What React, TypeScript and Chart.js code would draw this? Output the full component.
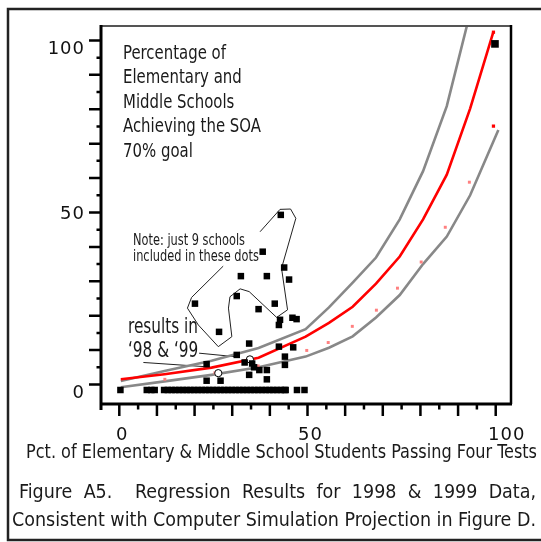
import React, { useEffect, useRef } from "react";
import { Chart, registerables } from "chart.js";
Chart.register(...registerables);

// ---- data ----
const lineX = [0.4, 12, 24.5, 37, 49.5, 55.7, 62, 68.2, 74.5, 80.7, 87, 93.2, 99.4];
const regressionY = [1.5, 3.0, 4.9, 7.8, 13.9, 17.9, 22.6, 29.3, 37.2, 48.0, 61.0, 80.2, 102.6];
const upperX = [0.4, 12, 24.5, 37, 49.5, 55.7, 62, 68.2, 74.5, 80.7, 87, 93.2];
const upperY = [1.0, 3.9, 6.9, 10.6, 16.1, 22.4, 29.6, 36.9, 48.0, 62.0, 80.9, 108];
const lowerX = [0.4, 12, 24.5, 37, 49.5, 55.7, 62, 68.2, 74.5, 80.7, 87, 93.2, 100.7];
const lowerY = [-0.8, 0.9, 2.8, 5.0, 8.1, 10.7, 14.0, 19.5, 26.0, 35.0, 43.0, 55.0, 74.0];
const projX = [12.1, 25.4, 36.9, 49.8, 55.5, 61.9, 68.3, 73.9, 80.2, 86.6, 93.0];
const projY = [1.5, 3.4, 5.4, 9.9, 12.2, 16.9, 21.6, 28.0, 35.6, 45.7, 58.8];
const endX = [99.4, 99.4];
const endY = [75.1, 102.4];
const schoolX = [42.9, 38.1, 43.8, 32.3, 39.2, 45.1, 31.2, 20.1, 41.3, 37.0, 46.0, 47.1, 42.7, 42.4, 26.5, 34.5, 42.4, 46.2, 31.2, 44.0, 44.0, 23.2, 33.3, 35.3, 35.8, 37.2, 39.2, 23.2, 26.9, 34.5, 39.2];
const schoolY = [49.3, 38.6, 34.0, 31.5, 31.5, 30.5, 25.7, 23.5, 23.5, 21.9, 19.4, 19.0, 18.8, 17.3, 15.3, 11.9, 11.0, 10.8, 8.6, 8.1, 5.7, 5.9, 6.4, 6.1, 5.0, 4.2, 4.2, 1.1, 1.1, 2.8, 1.5];
const topSchoolX = [99.8];
const topSchoolY = [99.0];
const zeroRowX = [0.3, 7.3, 8.5, 9.4, 11.9, 12.9, 13.9, 14.9, 15.9, 16.9, 17.9, 18.9, 19.9, 20.9, 21.9, 22.9, 23.9, 24.9, 25.9, 26.9, 27.9, 28.9, 29.9, 30.9, 31.9, 32.9, 33.9, 34.9, 35.9, 36.9, 37.9, 38.9, 39.9, 40.9, 41.9, 42.9, 43.9, 44.2, 47.2, 49.2];
const zeroRowY = [-1.6, -1.6, -1.6, -1.6, -1.6, -1.6, -1.6, -1.6, -1.6, -1.6, -1.6, -1.6, -1.6, -1.6, -1.6, -1.6, -1.6, -1.6, -1.6, -1.6, -1.6, -1.6, -1.6, -1.6, -1.6, -1.6, -1.6, -1.6, -1.6, -1.6, -1.6, -1.6, -1.6, -1.6, -1.6, -1.6, -1.6, -1.6, -1.6, -1.6];
const circleX = [26.3, 34.7];
const circleY = [3.3, 7.3];
const lassoX = [37.4, 42.7, 45.5, 46.9, 43.1, 44.7, 41.8, 34.5, 32.1, 29.4, 29.0, 29.9, 26.3, 21.0, 18.1, 19.2, 27.6];
const lassoY = [44.4, 50.9, 51.0, 48.3, 33.8, 21.7, 19.5, 27.0, 27.8, 25.5, 22.2, 13.9, 11.0, 17.3, 22.2, 25.3, 34.4];
const leaderAX = [21.2, 30.7];
const leaderAY = [9.1, 8.1];
const leaderBX = [6.4, 22.5];
const leaderBY = [6.4, 5.2];

const xTickMarks = [0, 5, 10, 15, 20, 25, 30, 35, 40, 45, 50, 55, 60, 65, 70, 75, 80, 85, 90, 95, 100];
const yTickMarks = [0, 5, 10, 15, 20, 25, 30, 35, 40, 45, 50, 55, 60, 65, 70, 75, 80, 85, 90, 95, 100];
const xTickLabels = [0, 50, 100];
const yTickLabels = [0, 50, 100];

const titleLines = ["Percentage of", "Elementary and", "Middle Schools", "Achieving the SOA", "70% goal"];
const noteLines = ["Note: just 9 schools", "included in these dots"];
const resultsLines = ["results in", "\u201898 & \u201899"];
const xTitle = "Pct. of Elementary & Middle School Students Passing Four Tests";
const captionLines = ["Figure A5.  Regression Results for 1998 & 1999 Data,", "Consistent with Computer Simulation Projection in Figure D."];

const NARROW = '"Liberation Sans Narrow", "Arial Narrow", "DejaVu Sans Condensed", sans-serif';
const NUMFONT = '"DejaVu Sans", sans-serif';

const pts = (xs: number[], ys: number[]) => xs.map((x, i) => ({ x, y: ys[i] }));

const decor = {
  id: "decor",
  beforeDraw(chart: any) {
    const ctx = chart.ctx;
    ctx.save();
    ctx.fillStyle = "#fff";
    ctx.fillRect(0, 0, chart.width, chart.height);
    ctx.restore();
  },
  afterDraw(chart: any) {
    const ctx: CanvasRenderingContext2D = chart.ctx;
    const a = chart.chartArea;
    const xs = chart.scales.x;
    const ys = chart.scales.y;
    ctx.save();
    // outer frame
    ctx.strokeStyle = "#222";
    ctx.lineWidth = 2.5;
    ctx.strokeRect(8, 9, 560, 531);
    // plot border
    ctx.strokeStyle = "#555";
    ctx.lineWidth = 2;
    ctx.beginPath();
    ctx.moveTo(a.left, a.top);
    ctx.lineTo(a.right, a.top);
    ctx.stroke();
    ctx.strokeStyle = "#000";
    ctx.lineWidth = 2.5;
    ctx.beginPath();
    ctx.moveTo(a.right, a.top - 1);
    ctx.lineTo(a.right, a.bottom);
    ctx.stroke();
    ctx.lineWidth = 3;
    ctx.beginPath();
    ctx.moveTo(a.left, a.top - 1);
    ctx.lineTo(a.left, a.bottom + 6);
    ctx.moveTo(a.left, a.bottom);
    ctx.lineTo(a.right + 1, a.bottom);
    ctx.stroke();
    // ticks
    ctx.lineWidth = 2.5;
    ctx.beginPath();
    for (const v of yTickMarks) {
      const p = ys.getPixelForValue(v);
      const len = v % 10 === 0 ? 12 : 4.5;
      ctx.moveTo(a.left, p);
      ctx.lineTo(a.left - len, p);
    }
    for (const v of xTickMarks) {
      const p = xs.getPixelForValue(v);
      const len = v % 10 === 0 ? 12 : 5.5;
      ctx.moveTo(p, a.bottom);
      ctx.lineTo(p, a.bottom + len);
    }
    ctx.stroke();
    // tick labels
    ctx.fillStyle = "#111";
    ctx.font = `18px ${NUMFONT}`;
    try { (ctx as any).letterSpacing = "1px"; } catch (e) {}
    ctx.textAlign = "right";
    ctx.textBaseline = "alphabetic";
    const yDy = [13.5, 6.5, 13.3];
    yTickLabels.forEach((v, i) => {
      ctx.fillText(String(v), a.left - 16, ys.getPixelForValue(v) + yDy[i]);
    });
    ctx.textAlign = "center";
    const xDx = [3, 3, 11];
    xTickLabels.forEach((v, i) => {
      ctx.fillText(String(v), xs.getPixelForValue(v) + xDx[i], 440);
    });
    try { (ctx as any).letterSpacing = "0px"; } catch (e) {}
    ctx.textAlign = "left";
    ctx.fillStyle = "#1a1a1a";

    // text block with a common horizontal squeeze fitted to a reference line width
    const block = (lines: string[], size: number, x: number, bases: number[], refWidth: number) => {
      ctx.font = `${size}px ${NARROW}`;
      const sx = refWidth / ctx.measureText(lines[0]).width;
      lines.forEach((t, i) => {
        ctx.save();
        ctx.translate(x, bases[i]);
        ctx.scale(sx, 1);
        ctx.fillText(t, 0, 0);
        ctx.restore();
      });
    };
    block(titleLines, 19.5, 123, [58.6, 83, 107.5, 132, 156.5], 103);
    block(noteLines, 15, 133, [245, 260.7], 112);
    block(resultsLines, 21, 128, [332.7, 356.7], 70);

    const fitText = (t: string, x0: number, x1: number, base: number, size: number) => {
      ctx.font = `${size}px ${NARROW}`;
      const w = ctx.measureText(t).width;
      const sx = (x1 - x0) / w;
      ctx.save();
      ctx.translate(x0, base);
      ctx.scale(sx, 1);
      ctx.fillText(t, 0, 0);
      ctx.restore();
    };
    fitText(xTitle, 26, 537, 458, 19);
    fitText(captionLines[1], 12, 536, 526, 20);
    // justified first caption line
    {
      ctx.font = `20px ${NARROW}`;
      const line2w = ctx.measureText(captionLines[1]).width;
      const sx = (536 - 12) / line2w;
      const words = captionLines[0].split(" ");
      const ws = words.map((w) => (w ? ctx.measureText(w).width * sx : 0));
      const total = ws.reduce((s, v) => s + v, 0);
      const gaps = words.length - 1;
      const gap = (536 - 19 - total) / gaps;
      let x = 19;
      words.forEach((w, i) => {
        if (w) {
          ctx.save();
          ctx.translate(x, 498);
          ctx.scale(sx, 1);
          ctx.fillText(w, 0, 0);
          ctx.restore();
        }
        x += ws[i] + gap;
      });
    }
    ctx.restore();
  },
};

export default function App() {
  const ref = useRef<HTMLCanvasElement>(null);
  useEffect(() => {
    document.body.style.margin = "0";
    const chart = new Chart(ref.current as HTMLCanvasElement, {
      type: "scatter",
      data: {
        datasets: [
          { label: "schools", data: pts(schoolX, schoolY), pointStyle: "rect", pointRadius: 4.6, backgroundColor: "#000", borderWidth: 0, showLine: false, order: 0 } as any,
          { label: "top school", data: pts(topSchoolX, topSchoolY), pointStyle: "rect", pointRadius: 5.4, backgroundColor: "#000", borderWidth: 0, showLine: false, order: 0 },
          { label: "zero", data: pts(zeroRowX, zeroRowY), pointStyle: "rect", pointRadius: 4.6, backgroundColor: "#000", borderWidth: 0, showLine: false, order: 0 },
          { label: "circles", data: pts(circleX, circleY), pointStyle: "circle", pointRadius: 3.6, backgroundColor: "#fff", borderColor: "#000", borderWidth: 1, showLine: false, order: 1 },
          { label: "end", data: pts(endX, endY), pointStyle: "rect", pointRadius: 2.3, backgroundColor: "#ff0000", borderWidth: 0, showLine: false, order: 2 },
          { label: "projection", data: pts(projX, projY), pointStyle: "rect", pointRadius: 2.1, backgroundColor: "#ff8080", borderWidth: 0, showLine: false, order: 3 },
          { label: "regression", data: pts(lineX, regressionY), showLine: true, borderColor: "#ff0000", borderWidth: 2.6, pointRadius: 0, fill: false, order: 4 },
          { label: "upper", data: pts(upperX, upperY), showLine: true, borderColor: "#888888", borderWidth: 2.6, pointRadius: 0, fill: false, order: 5 },
          { label: "lower", data: pts(lowerX, lowerY), showLine: true, borderColor: "#888888", borderWidth: 2.6, pointRadius: 0, fill: false, order: 5 },
          { label: "lasso", data: pts(lassoX, lassoY), showLine: true, borderColor: "#222", borderWidth: 1, pointRadius: 0, fill: false, order: 6 },
          { label: "leaderA", data: pts(leaderAX, leaderAY), showLine: true, borderColor: "#222", borderWidth: 1, pointRadius: 0, fill: false, order: 6 },
          { label: "leaderB", data: pts(leaderBX, leaderBY), showLine: true, borderColor: "#222", borderWidth: 1, pointRadius: 0, fill: false, order: 6 },
        ],
      },
      options: {
        responsive: false,
        animation: false,
        devicePixelRatio: 1,
        events: [],
        layout: { padding: { left: 101, right: 30, top: 26, bottom: 138 } },
        plugins: { legend: { display: false }, tooltip: { enabled: false } },
        elements: { line: { tension: 0 } },
        scales: {
          x: { type: "linear", min: -4.86, max: 104.06, display: false },
          y: { type: "linear", min: -5.67, max: 104.2, display: false },
        },
      },
      plugins: [decor],
    });
    return () => chart.destroy();
  }, []);
  return (
    <div style={{ position: "absolute", left: 0, top: 0, width: 541, height: 542, background: "#fff" }}>
      <canvas ref={ref} width={541} height={542} style={{ display: "block", width: 541, height: 542 }} />
    </div>
  );
}
